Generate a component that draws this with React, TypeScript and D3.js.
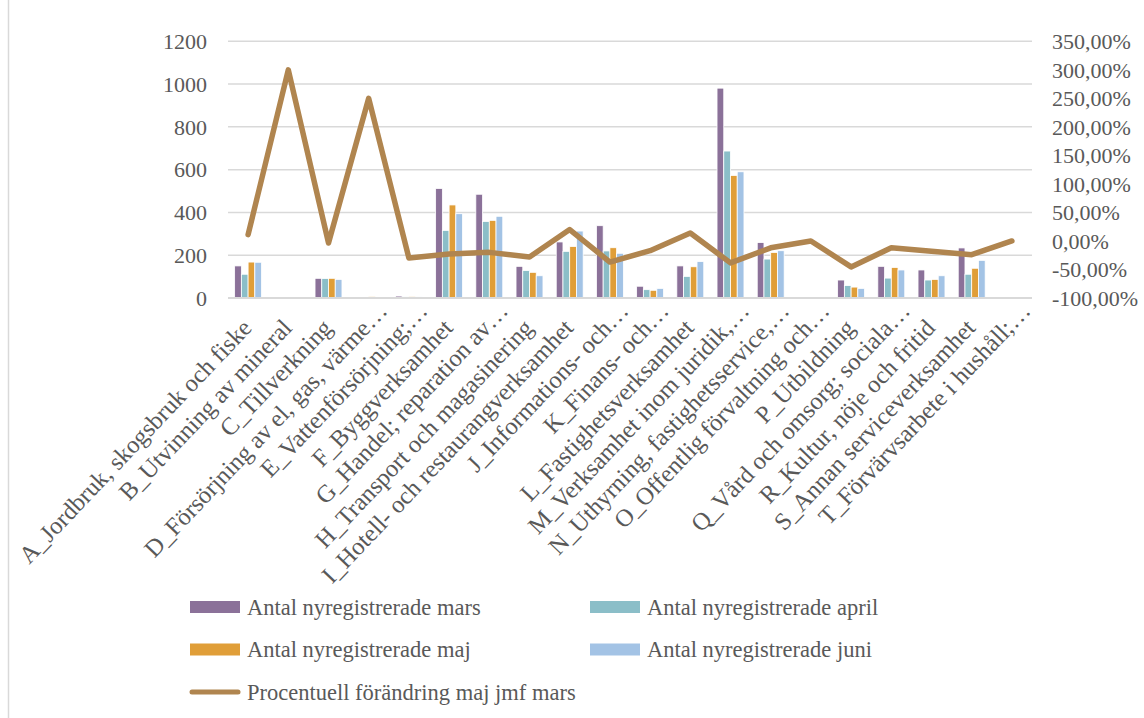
import React from "react";
import * as d3 from "d3";

const categories: string[] = [
  "A_Jordbruk, skogsbruk och fiske",
  "B_Utvinning av mineral",
  "C_Tillverkning",
  "D_Försörjning av el, gas, värme…",
  "E_Vattenförsörjning;…",
  "F_Byggverksamhet",
  "G_Handel; reparation av…",
  "H_Transport och magasinering",
  "I_Hotell- och restaurangverksamhet",
  "J_Informations- och…",
  "K_Finans- och…",
  "L_Fastighetsverksamhet",
  "M_Verksamhet inom juridik,…",
  "N_Uthyrning, fastighetsservice,…",
  "O_Offentlig förvaltning och…",
  "P_Utbildning",
  "Q_Vård och omsorg; sociala…",
  "R_Kultur, nöje och fritid",
  "S_Annan serviceverksamhet",
  "T_Förvärvsarbete i hushåll;…",
];

const mars: number[] = [150, 1, 92, 2, 9, 512, 485, 148, 262, 338, 55, 150, 981, 259, 0, 84, 148, 131, 234, 0];
const april: number[] = [111, 2, 91, 1, 5, 316, 358, 128, 218, 220, 39, 101, 687, 182, 0, 58, 93, 84, 111, 0];
const maj: number[] = [168, 4, 92, 7, 6, 435, 363, 120, 241, 235, 36, 146, 573, 213, 0, 51, 143, 87, 139, 0];
const juni: number[] = [167, 3, 87, 4, 5, 394, 382, 104, 313, 209, 45, 170, 590, 221, 0, 45, 131, 104, 176, 0];
const forandring: number[] = [11, 300, -3.5, 250, -30, -23, -20, -28, 20, -37, -17, 14, -38.5, -12, 0, -45.5, -12, -18, -24, 0];

const leftTicks: number[] = [0, 200, 400, 600, 800, 1000, 1200];
const rightTicks: number[] = [-100, -50, 0, 50, 100, 150, 200, 250, 300, 350];

const seriesNames: string[] = [
  "Antal nyregistrerade mars",
  "Antal nyregistrerade april",
  "Antal nyregistrerade maj",
  "Antal nyregistrerade juni",
];
const lineName = "Procentuell förändring maj jmf mars";

const seriesColors = ["#8b7199", "#8bbec8", "#e09e38", "#a3c3e5"];
const lineColor = "#b0854f";
const textColor = "#595959";
const gridColor = "#d9d9d9";
const FONT = "'Liberation Serif', 'DejaVu Serif', serif";

export default function App() {
  const W = 1144;
  const H = 718;
  const left = 228;
  const right = 1032;
  const top = 41.3;
  const bottom = 298;

  const series = [mars, april, maj, juni];

  const x0 = d3
    .scaleBand<string>()
    .domain(categories)
    .range([left, right])
    .paddingInner(0.33)
    .paddingOuter(0.165);
  const x1 = d3
    .scaleBand<number>()
    .domain([0, 1, 2, 3])
    .range([0, x0.bandwidth()])
    .padding(0);
  const yL = d3.scaleLinear().domain([0, 1200]).range([bottom, top]);
  const yR = d3.scaleLinear().domain([-100, 350]).range([bottom, top]);

  const line = d3
    .line<number>()
    .x((_, i) => (x0(categories[i]) as number) + x0.bandwidth() / 2)
    .y((d) => yR(d));

  const fmtPct = (v: number) => `${v.toFixed(2).replace(".", ",")}%`;

  return (
    <svg
      width={W}
      height={H}
      style={{ position: "absolute", left: 0, top: 0, background: "#fff" }}
      fontFamily={FONT}
    >
      <rect x={0} y={0} width={W} height={H} fill="#fff" />
      <line x1={8.5} x2={8.5} y1={0} y2={H} stroke={gridColor} strokeWidth={1.5} />

      {leftTicks.map((t) => (
        <line
          key={"g" + t}
          x1={left}
          x2={right}
          y1={yL(t)}
          y2={yL(t)}
          stroke={gridColor}
          strokeWidth={1.5}
        />
      ))}

      {categories.map((c, i) => (
        <g key={"b" + i} transform={`translate(${x0(c)},0)`}>
          {series.map((s, k) => {
            const v = s[i];
            const h = bottom - yL(v);
            return (
              <rect
                key={k}
                x={x1(k) as number}
                y={yL(v)}
                width={x1.bandwidth()}
                height={Math.max(0, h)}
                fill={seriesColors[k]}
                stroke="#fff"
                strokeWidth={0.8}
              />
            );
          })}
        </g>
      ))}

      <line x1={left} x2={right} y1={bottom} y2={bottom} stroke={gridColor} strokeWidth={2} />

      <path
        d={line(forandring) || ""}
        fill="none"
        stroke={lineColor}
        strokeWidth={5.5}
        strokeLinejoin="round"
        strokeLinecap="round"
      />

      {leftTicks.map((t) => (
        <text
          key={"l" + t}
          x={207}
          y={yL(t)}
          dy="0.35em"
          textAnchor="end"
          fontSize={22}
          fill={textColor}
        >
          {t}
        </text>
      ))}

      {rightTicks.map((t) => (
        <text
          key={"r" + t}
          x={1052}
          y={yR(t)}
          dy="0.35em"
          textAnchor="start"
          fontSize={22}
          fill={textColor}
        >
          {fmtPct(t)}
        </text>
      ))}

      {categories.map((c, i) => {
        const cx = (x0(c) as number) + x0.bandwidth() / 2;
        const ell = c.endsWith("…");
        const ax = cx + (ell ? 20 : 5);
        const ay = ell ? 312 : 329;
        return (
          <text
            key={"c" + i}
            transform={`translate(${ax},${ay}) rotate(-46.5)`}
            textAnchor="end"
            fontSize={24.5}
            fill={textColor}
          >
            {c}
          </text>
        );
      })}

      {seriesNames.map((n, k) => {
        const col = k % 2;
        const row = Math.floor(k / 2);
        const lx = col === 0 ? 190 : 590;
        const ly = 607 + row * 42.5;
        return (
          <g key={"lg" + k}>
            <rect x={lx} y={ly - 6} width={50} height={12} fill={seriesColors[k]} />
            <text x={lx + 57} y={ly} dy="0.35em" fontSize={22.5} fill={textColor}>
              {n}
            </text>
          </g>
        );
      })}
      <g>
        <line
          x1={192}
          x2={238}
          y1={692}
          y2={692}
          stroke={lineColor}
          strokeWidth={5}
          strokeLinecap="round"
        />
        <text x={247} y={692} dy="0.35em" fontSize={22.5} fill={textColor}>
          {lineName}
        </text>
      </g>
    </svg>
  );
}
